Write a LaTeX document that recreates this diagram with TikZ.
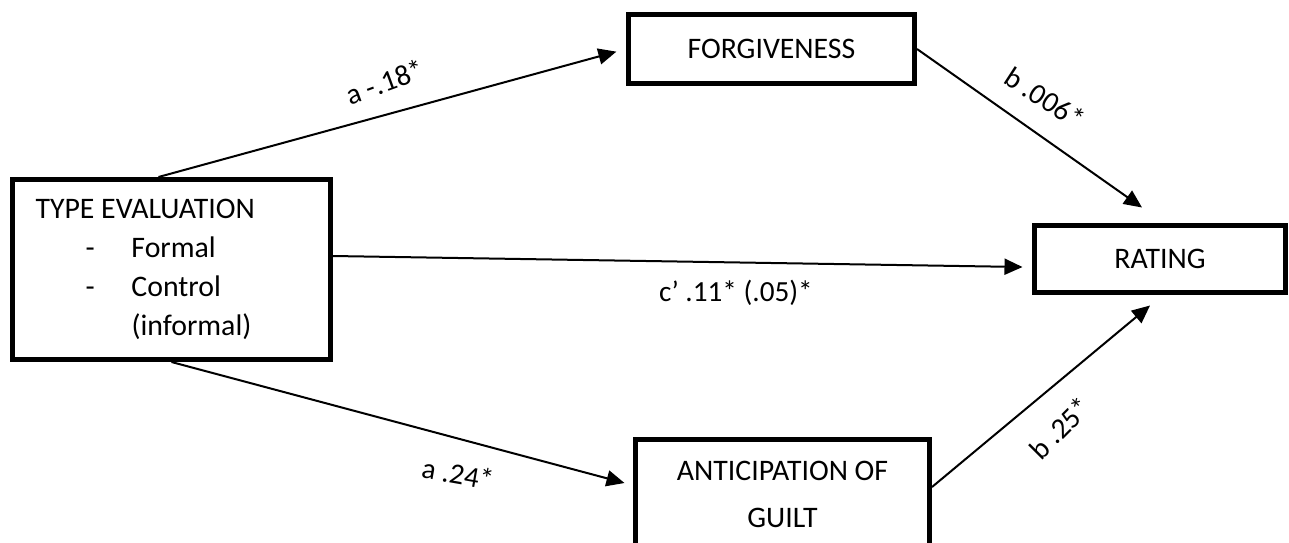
\documentclass[tikz,border=0pt]{standalone}
\usepackage{fontspec}
\setmainfont{Carlito}
\usetikzlibrary{arrows.meta}
\tikzset{
  box/.style={draw, line width=5pt, inner sep=0pt, font=\fontsize{29.8}{39}\selectfont},
  arr/.style={line width=2pt, -{Triangle[length=18pt,width=16pt]}},
  lbl/.style={inner sep=0pt, font=\fontsize{29.2}{34}\selectfont}
}
\begin{document}
\begin{tikzpicture}[x=1pt,y=-1pt]
\fill[white] (0,0) rectangle (1289,542);
\useasboundingbox (0,0) rectangle (1289,542);
\begin{scope}
\clip (0,0) rectangle (1289,542);
\node[box, minimum width=318pt, minimum height=180pt, text width=272pt, align=left] (TYPE) at (171.5,269.5)
  {\spaceskip=0pt\xspaceskip=0pt TYPE EVALUATION\\\makebox[96pt][l]{\hspace*{50pt}-}Formal\\\makebox[96pt][l]{\hspace*{50pt}-}Control\\\hspace*{96pt}(informal)};
\node[box, minimum width=286pt, minimum height=69pt] (FORG) at (771.5,49) {FORGIVENESS};
\node[box, minimum width=251pt, minimum height=67pt] (RATING) at (1160,259) {RATING};
\node[box, minimum width=294pt, minimum height=109pt, align=center, font=\fontsize{29.8}{47}\selectfont] (ANT) at (782.5,494) {\spaceskip=0pt\xspaceskip=0pt ANTICIPATION OF\\GUILT};
\end{scope}
\draw[arr, shorten >=10pt] ([xshift=-13pt]TYPE.north) -- (FORG.west);
\draw[arr] (FORG.east) -- ([xshift=-18pt,yshift=15.5pt]RATING.north);
\draw[arr] ([yshift=13.5pt]TYPE.east) -- ([xshift=-9.5pt,yshift=-8pt]RATING.west);
\draw[arr] (TYPE.south) -- ([xshift=-8.5pt,yshift=11pt]ANT.west);
\draw[arr] ([yshift=7pt]ANT.east) -- ([xshift=-10pt,yshift=-10.5pt]RATING.south);
\node[lbl, rotate=20] (la1) at (385,82) {a -.18*};
\node[lbl, rotate=-33] (lb1) at (1045,98) {b .006*};
\node[lbl] (lc) at (736,293) {c’ .11* (.05)*};
\node[lbl, rotate=-10] (la2) at (458,474) {a .24*};
\node[lbl, rotate=45] (lb2) at (1060,428) {b .25*};
\end{tikzpicture}
\end{document}
